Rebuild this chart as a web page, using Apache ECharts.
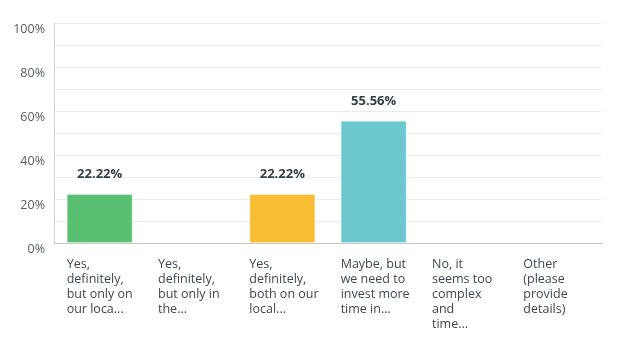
<!DOCTYPE html>
<html><head><meta charset="utf-8">
<script src="https://cdn.jsdelivr.net/npm/echarts@6/dist/echarts.min.js"></script>
<style>html,body{margin:0;padding:0;background:#fff}#c{width:624px;height:342px}</style>
</head><body><div id="c"></div>
<script>
const categories = [
  "Yes,\ndefinitely,\nbut only on\nour loca...",
  "Yes,\ndefinitely,\nbut only in\nthe...",
  "Yes,\ndefinitely,\nboth on our\nlocal...",
  "Maybe, but\nwe need to\ninvest more\ntime in...",
  "No, it\nseems too\ncomplex\nand\ntime...",
  "Other\n(please\nprovide\ndetails)"
];
const values = [22.22, 0, 22.22, 55.56, 0, 0];
const barColors = ["#59c072", "#59c072", "#f8bd33", "#6bc8ce", "#6bc8ce", "#6bc8ce"];
const yTicks = [0, 20, 40, 60, 80, 100];

const FONT = "'Open Sans', sans-serif";
const chart = echarts.init(document.getElementById('c'), null, {renderer: 'canvas'});
chart.setOption({
  animation: false,
  grid: {left: 54, right: 22, top: 23, bottom: 99},
  xAxis: {
    type: 'category',
    data: categories,
    axisLine: {lineStyle: {color: '#c8c8c8', width: 1}},
    axisTick: {show: false},
    axisLabel: {
      interval: 0,
      margin: 14,
      formatter: v => v.split('\n').map(l => '{a|' + l + '}').join('\n'),
      rich: {a: {width: 66, align: 'left', fontSize: 12.5, lineHeight: 15, color: '#40474f', fontFamily: FONT}}
    }
  },
  yAxis: {
    type: 'value',
    min: 0, max: 100, interval: 10,
    axisLine: {show: true, lineStyle: {color: '#d3d3d3', width: 1}},
    axisTick: {show: false},
    splitLine: {lineStyle: {color: '#ececec', width: 1}},
    axisLabel: {
      margin: 9,
      verticalAlign: 'top',
      fontSize: 12.5, color: '#555c63', fontFamily: FONT,
      formatter: v => yTicks.includes(v) ? v + '%' : ''
    }
  },
  series: [{
    type: 'bar',
    barWidth: 66,
    data: values.map((v, i) => ({value: v, itemStyle: {color: barColors[i], borderColor: v > 0 ? 'rgba(255,255,255,0.35)' : 'rgba(0,0,0,0)', borderWidth: v > 0 ? 1 : 0}})),
    label: {
      show: true, position: 'top', distance: 13,
      fontSize: 13, fontWeight: 'bold', color: '#333e48', fontFamily: FONT,
      formatter: p => p.value > 0 ? p.value.toFixed(2) + '%' : ''
    }
  }]
});
</script></body></html>
